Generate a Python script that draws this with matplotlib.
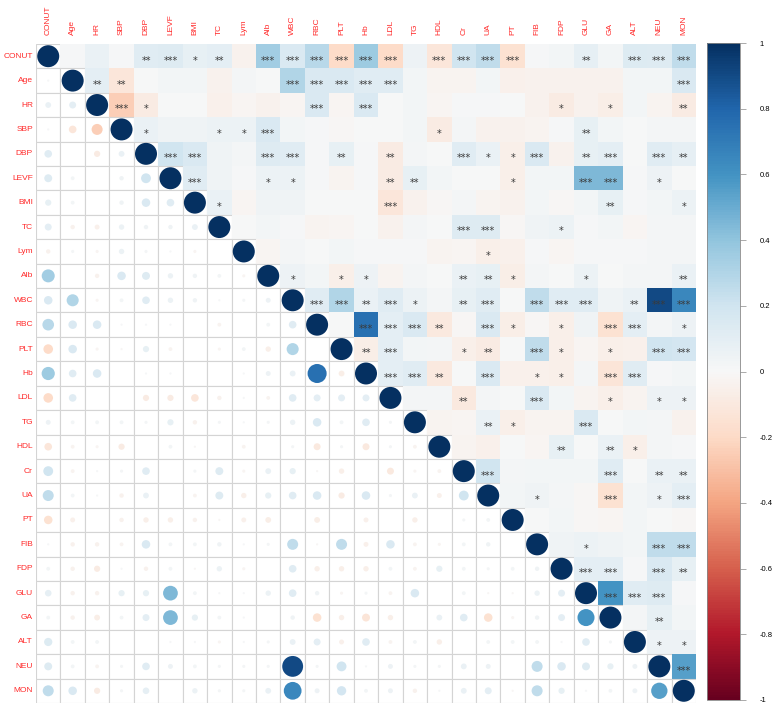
import numpy as np
import matplotlib
import matplotlib.pyplot as plt
from matplotlib.patches import Circle, Rectangle

plt.rcParams['font.family'] = ['Liberation Sans', 'DejaVu Sans']

variables = ['CONUT', 'Age', 'HR', 'SBP', 'DBP', 'LEVF', 'BMI', 'TC', 'Lym', 'Alb',
             'WBC', 'RBC', 'PLT', 'Hb', 'LDL', 'TG', 'HDL', 'Cr', 'UA', 'PT',
             'FIB', 'FDP', 'GLU', 'GA', 'ALT', 'NEU', 'MON']

# upper triangle, one list per row (values to the right of the diagonal)
r_CONUT = [0.01, 0.07, 0.01, 0.12, 0.13, 0.08, 0.10, -0.04, 0.35, 0.15, 0.28, -0.19, 0.36,
           -0.19, 0.05, -0.12, 0.20, 0.25, -0.15, 0.01, 0.03, 0.09, 0.03, 0.14, 0.13, 0.25]
r_Age = [0.10, -0.12, 0.0, 0.03, 0.03, -0.04, 0.02, 0.0, 0.30, 0.15, 0.15, 0.12, 0.12,
         0.03, -0.03, -0.03, 0.03, -0.05, -0.04, -0.04, -0.04, -0.04, 0.03, 0.03, 0.15]
r_HR = [-0.25, -0.08, 0.0, 0.0, -0.05, -0.02, -0.04, -0.02, 0.15, -0.02, 0.15, 0.0,
        0.03, -0.02, 0.01, 0.01, 0.0, -0.04, -0.08, -0.04, -0.07, 0.03, -0.03, -0.08]
r_SBP = [0.07, 0.04, 0.04, 0.06, 0.06, 0.15, 0.03, 0.01, -0.01, 0.0, 0.0, 0.03, -0.08,
         0.02, -0.04, -0.04, -0.03, 0.01, 0.08, 0.03, 0.0, 0.02, 0.02]
r_DBP = [0.20, 0.15, 0.04, 0.02, 0.13, 0.12, 0.01, 0.08, 0.01, -0.08, 0.02, 0.0, 0.12,
         0.07, -0.06, 0.15, -0.04, 0.08, 0.10, 0.0, 0.12, 0.09]
r_LEVF = [0.12, 0.04, 0.01, 0.06, 0.06, 0.01, -0.03, 0.01, -0.08, 0.08, 0.03, 0.0, 0.0,
          -0.06, 0.03, 0.03, 0.45, 0.45, 0.01, 0.05, 0.0]
r_BMI = [0.07, -0.02, 0.04, 0.04, 0.0, 0.0, 0.0, -0.12, -0.04, -0.01, 0.02, -0.03, -0.04,
         0.03, -0.01, 0.03, 0.08, 0.01, 0.03, 0.06]
r_TC = [0.0, 0.03, 0.01, -0.03, -0.02, 0.0, -0.04, 0.02, 0.0, 0.13, 0.13, -0.01, 0.04,
        0.06, 0.01, 0.03, -0.02, 0.02, 0.02]
r_Lym = [-0.02, 0.02, 0.0, 0.03, 0.01, 0.01, 0.01, -0.03, -0.02, -0.06, -0.05, 0.01,
         -0.02, 0.01, 0.01, 0.01, 0.02, 0.02]
r_Alb = [0.05, 0.03, -0.06, 0.05, -0.03, 0.02, 0.0, 0.07, 0.08, -0.07, 0.02, 0.0, 0.06,
         0.0, 0.02, 0.02, 0.07]
r_WBC = [0.12, 0.30, 0.07, 0.12, 0.06, 0.02, 0.08, 0.12, 0.0, 0.25, 0.12, 0.12, 0.04,
         0.07, 0.90, 0.65]
r_RBC = [0.0, 0.75, 0.10, 0.15, -0.10, -0.01, 0.15, -0.07, -0.01, -0.06, 0.04, -0.15,
         0.10, 0.02, 0.05]
r_PLT = [-0.07, 0.10, 0.03, 0.02, -0.06, -0.08, 0.0, 0.25, -0.06, -0.02, -0.06, -0.05,
         0.20, 0.18]
r_Hb = [0.10, 0.12, -0.10, 0.0, 0.15, -0.05, -0.05, -0.06, 0.02, -0.13, 0.12, 0.01, 0.03]
r_LDL = [0.02, 0.02, -0.10, 0.02, 0.0, 0.15, 0.03, -0.03, -0.06, -0.03, 0.05, 0.05]
r_TG = [-0.03, -0.02, 0.07, -0.06, -0.03, -0.03, 0.15, 0.0, 0.03, 0.02, -0.04]
r_HDL = [-0.03, -0.05, 0.0, -0.02, 0.08, 0.0, 0.07, -0.06, 0.02, 0.01]
r_Cr = [0.20, 0.02, 0.03, 0.03, 0.03, 0.12, 0.0, 0.07, 0.07]
r_UA = [0.03, 0.04, 0.02, -0.01, -0.15, 0.03, 0.05, 0.10]
r_PT = [0.0, 0.03, -0.01, -0.02, 0.03, 0.0, -0.01]
r_FIB = [0.04, 0.06, 0.04, 0.03, 0.25, 0.25]
r_FDP = [0.10, 0.10, 0.01, 0.15, 0.08]
r_GLU = [0.60, 0.12, 0.13, 0.01]
r_GA = [0.02, 0.08, 0.03]
r_ALT = [0.05, 0.05]
r_NEU = [0.55]

# number of significance stars, same layout
s_CONUT = [0, 0, 0, 2, 3, 1, 2, 0, 3, 3, 3, 3, 3, 3, 0, 3, 3, 3, 3, 0, 0, 2, 0, 3, 3, 3]
s_Age = [2, 2, 0, 0, 0, 0, 0, 0, 3, 3, 3, 3, 3, 0, 0, 0, 0, 0, 0, 0, 0, 0, 0, 0, 3]
s_HR = [3, 1, 0, 0, 0, 0, 0, 0, 3, 0, 3, 0, 0, 0, 0, 0, 0, 0, 1, 0, 1, 0, 0, 2]
s_SBP = [1, 0, 0, 1, 1, 3, 0, 0, 0, 0, 0, 0, 1, 0, 0, 0, 0, 0, 2, 0, 0, 0, 0]
s_DBP = [3, 3, 0, 0, 3, 3, 0, 2, 0, 2, 0, 0, 3, 1, 1, 3, 0, 2, 3, 0, 3, 2]
s_LEVF = [3, 0, 0, 1, 1, 0, 0, 0, 2, 2, 0, 0, 0, 1, 0, 0, 3, 3, 0, 1, 0]
s_BMI = [1, 0, 0, 0, 0, 0, 0, 3, 0, 0, 0, 0, 0, 0, 0, 0, 2, 0, 0, 1]
s_TC = [0, 0, 0, 0, 0, 0, 0, 0, 0, 3, 3, 0, 0, 1, 0, 0, 0, 0, 0]
s_Lym = [0, 0, 0, 0, 0, 0, 0, 0, 0, 1, 0, 0, 0, 0, 0, 0, 0, 0]
s_Alb = [1, 0, 1, 1, 0, 0, 0, 2, 2, 1, 0, 0, 1, 0, 0, 0, 2]
s_WBC = [3, 3, 2, 3, 1, 0, 2, 3, 0, 3, 3, 3, 0, 2, 3, 3]
s_RBC = [0, 3, 3, 3, 2, 0, 3, 1, 0, 1, 0, 3, 3, 0, 1]
s_PLT = [2, 3, 0, 0, 1, 2, 0, 3, 1, 0, 1, 0, 3, 3]
s_Hb = [3, 3, 2, 0, 3, 0, 1, 1, 0, 3, 3, 0, 0]
s_LDL = [0, 0, 2, 0, 0, 3, 0, 0, 1, 0, 1, 1]
s_TG = [0, 0, 2, 1, 0, 0, 3, 0, 0, 0, 0]
s_HDL = [0, 0, 0, 0, 2, 0, 2, 1, 0, 0]
s_Cr = [3, 0, 0, 0, 0, 3, 0, 2, 2]
s_UA = [0, 1, 0, 0, 3, 0, 1, 3]
s_PT = [0, 0, 0, 0, 0, 0, 0]
s_FIB = [0, 1, 0, 0, 3, 3]
s_FDP = [3, 3, 0, 3, 2]
s_GLU = [3, 3, 3, 0]
s_GA = [0, 2, 0]
s_ALT = [1, 1]
s_NEU = [3]

r_rows = [r_CONUT, r_Age, r_HR, r_SBP, r_DBP, r_LEVF, r_BMI, r_TC, r_Lym, r_Alb, r_WBC,
          r_RBC, r_PLT, r_Hb, r_LDL, r_TG, r_HDL, r_Cr, r_UA, r_PT, r_FIB, r_FDP, r_GLU,
          r_GA, r_ALT, r_NEU]
s_rows = [s_CONUT, s_Age, s_HR, s_SBP, s_DBP, s_LEVF, s_BMI, s_TC, s_Lym, s_Alb, s_WBC,
          s_RBC, s_PLT, s_Hb, s_LDL, s_TG, s_HDL, s_Cr, s_UA, s_PT, s_FIB, s_FDP, s_GLU,
          s_GA, s_ALT, s_NEU]

n = len(variables)
corr = np.eye(n)
stars = np.zeros((n, n), dtype=int)
for i, (vals, sig) in enumerate(zip(r_rows, s_rows)):
    corr[i, i + 1:] = vals
    corr[i + 1:, i] = vals
    stars[i, i + 1:] = sig

cmap = matplotlib.colormaps['RdBu']
norm = matplotlib.colors.Normalize(vmin=-1, vmax=1)

W, H = 782, 714
fig = plt.figure(figsize=(W / 100, H / 100), dpi=100)
ax = fig.add_axes([36 / W, (H - 703) / H, 660 / W, 659 / H])
ax.set_xlim(0, n)
ax.set_ylim(n, 0)
ax.axis('off')

grid_col = '#d4d4d4'
for i in range(n):
    for j in range(n):
        r = corr[i, j]
        col = cmap(norm(r))
        if j > i:
            # upper triangle: filled square with significance stars
            ax.add_patch(Rectangle((j, i), 1, 1, facecolor=col, edgecolor='none'))
            if stars[i, j] > 0:
                ax.text(j + 0.5, i + 0.68, '*' * stars[i, j], ha='center', va='center',
                        fontsize=7, color='#3a3a3a', family='DejaVu Sans')
        else:
            # lower triangle + diagonal: gridded cell with circle
            ax.add_patch(Rectangle((j, i), 1, 1, facecolor='white', edgecolor=grid_col, lw=0.8))
            rad = 0.45 * np.sqrt(abs(r))
            ax.add_patch(Circle((j + 0.5, i + 0.5), rad, facecolor=col, edgecolor='none'))

cell = 659 / n
for k, name in enumerate(variables):
    ax.text(-3 / cell, k + 0.5, name, ha='right', va='center', color='#ff2a2a',
            fontsize=6, clip_on=False)
    ax.text(k + 0.5, -9 / cell, name, ha='center', va='bottom', color='#ff2a2a',
            fontsize=6, rotation=90, clip_on=False)

# colour legend
cax = fig.add_axes([707 / W, (H - 700) / H, 33 / W, 657 / H])
sm = matplotlib.cm.ScalarMappable(norm=norm, cmap=cmap)
cb = fig.colorbar(sm, cax=cax)
ticks = np.round(np.linspace(-1, 1, 11), 1)
cb.set_ticks(ticks)
cb.set_ticklabels(['%g' % t if t != 0 else '0' for t in ticks])
cb.outline.set_edgecolor('#888888')
cb.outline.set_linewidth(0.6)
cax.tick_params(labelsize=5.5, length=4, width=0.5, color='#888888', pad=10)

fig.savefig('out.png', dpi=100)
